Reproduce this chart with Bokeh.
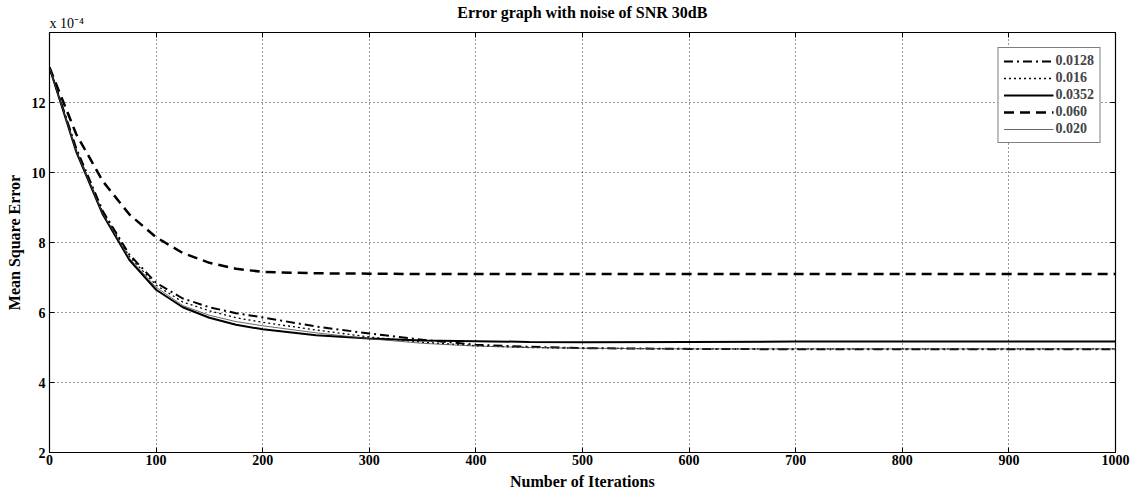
from bokeh.plotting import figure
from bokeh.models import LinearAxis, Legend, LegendItem, FixedTicker, NoOverlap
from bokeh.embed import file_html
from bokeh.resources import INLINE

# Iteration samples and mean square error (x 1e-4)
iters = [0, 25, 50, 75, 100, 125, 150, 175, 200, 250, 300, 350, 400, 450, 500,
         600, 700, 800, 900, 1000]
mse_00128 = [13.0, 10.7, 8.9, 7.65, 6.85, 6.4, 6.15, 5.98, 5.86, 5.6, 5.4, 5.22, 5.08,
             5.02, 4.98, 4.96, 4.95, 4.95, 4.95, 4.95]
mse_0016 = [13.0, 10.65, 8.85, 7.6, 6.78, 6.3, 6.05, 5.85, 5.72, 5.5, 5.3, 5.15, 5.05,
            5.0, 4.98, 4.96, 4.96, 4.96, 4.96, 4.96]
mse_00352 = [13.0, 10.6, 8.8, 7.5, 6.65, 6.15, 5.85, 5.65, 5.52, 5.35, 5.26, 5.2, 5.18,
             5.16, 5.15, 5.16, 5.17, 5.17, 5.17, 5.17]
mse_0060 = [13.0, 11.1, 9.75, 8.8, 8.15, 7.7, 7.42, 7.25, 7.16, 7.12, 7.11, 7.1, 7.1,
            7.1, 7.1, 7.1, 7.1, 7.1, 7.1, 7.1]
mse_0020 = [13.0, 10.62, 8.82, 7.55, 6.72, 6.2, 5.92, 5.74, 5.62, 5.42, 5.25, 5.12, 5.04,
            5.0, 4.98, 4.96, 4.96, 4.96, 4.96, 4.96]

x_ticks = [0, 100, 200, 300, 400, 500, 600, 700, 800, 900, 1000]
y_ticks = [2, 4, 6, 8, 10, 12]
series_labels = ["0.0128", "0.016", "0.0352", "0.060", "0.020"]
title_text = "Error graph with noise of SNR 30dB"
scale_text = "x 10\u207b\u2074"

SERIF = "Liberation Serif"
TICKF = "Liberation Sans Narrow"

p = figure(width=1139, height=499, output_backend="svg", toolbar_location=None,
           x_range=(0, 1000), y_range=(2, 14),
           min_border_left=49, min_border_right=24, min_border_top=32,
           min_border_bottom=47)
p.background_fill_color = "white"
p.border_fill_color = "white"
p.outline_line_color = "black"
p.outline_line_width = 1.2

for ax in (p.xaxis[0], p.yaxis[0]):
    ax.major_tick_in = 5
    ax.major_tick_out = 0
    ax.minor_tick_line_color = None
    ax.axis_line_color = "black"
    ax.major_tick_line_color = "black"
    ax.major_label_text_font = TICKF
    ax.major_label_text_font_style = "bold"
    ax.major_label_text_font_size = "14px"
    ax.major_label_text_color = "black"
    ax.axis_label_text_font = SERIF
    ax.axis_label_text_font_style = "bold"
    ax.axis_label_text_font_size = "16px"
    ax.axis_label_text_color = "black"

p.xaxis.ticker = FixedTicker(ticks=x_ticks)
p.yaxis.ticker = FixedTicker(ticks=y_ticks)
p.xaxis.axis_label = "Number of Iterations"
p.yaxis.axis_label = "Mean Square Error"
p.xaxis.major_label_standoff = 2
p.yaxis.major_label_standoff = 4
p.xaxis.axis_label_standoff = 5
p.yaxis.axis_label_standoff = 6

# right axis: ticks only
rax = LinearAxis(ticker=FixedTicker(ticks=y_ticks), major_tick_in=5, major_tick_out=0,
                 minor_tick_line_color=None, major_label_text_color=None,
                 major_label_standoff=0)
p.add_layout(rax, "right")

# top axis: inward ticks, the "x 10^-4" scale note at 0 and the title as axis label
tax = LinearAxis(ticker=FixedTicker(ticks=x_ticks), major_tick_in=5, major_tick_out=0,
                 minor_tick_line_color=None,
                 major_label_overrides={0: scale_text},
                 major_label_policy=NoOverlap(min_distance=5000),
                 major_label_orientation=0.0001,
                 major_label_standoff=9,
                 major_label_text_font=TICKF,
                 major_label_text_font_size="14px",
                 major_label_text_color="black",
                 axis_label=title_text,
                 axis_label_text_font=SERIF,
                 axis_label_text_font_style="bold",
                 axis_label_text_font_size="16px",
                 axis_label_text_color="black",
                 axis_label_standoff=-16)
p.add_layout(tax, "above")

p.xgrid.ticker = FixedTicker(ticks=x_ticks)
p.ygrid.ticker = FixedTicker(ticks=y_ticks)
p.grid.grid_line_color = "black"
p.grid.grid_line_dash = "1 3"
p.grid.grid_line_width = 1
p.grid.grid_line_alpha = 0.8

r1 = p.line(iters, mse_00128, line_color="black", line_width=2, line_dash="9 4 2 4")
r2 = p.line(iters, mse_0016, line_color="black", line_width=1.3, line_dash="2 3")
r3 = p.line(iters, mse_00352, line_color="black", line_width=2)
r4 = p.line(iters, mse_0060, line_color="black", line_width=2.5, line_dash="10 6")
r5 = p.line(iters, mse_0020, line_color="#444444", line_width=0.8)

legend = Legend(items=[LegendItem(label=lab, renderers=[r])
                       for lab, r in zip(series_labels, [r1, r2, r3, r4, r5])],
                location="top_right")
legend.margin = 15
legend.padding = 5
legend.spacing = 1
legend.glyph_width = 50
legend.glyph_height = 16
legend.label_height = 16
legend.label_standoff = 2
legend.label_text_font = SERIF
legend.label_text_font_style = "bold"
legend.label_text_font_size = "14px"
legend.border_line_color = "black"
legend.border_line_width = 1.2
legend.background_fill_alpha = 1
p.add_layout(legend)

open("out.html", "w").write(file_html(p, INLINE))
